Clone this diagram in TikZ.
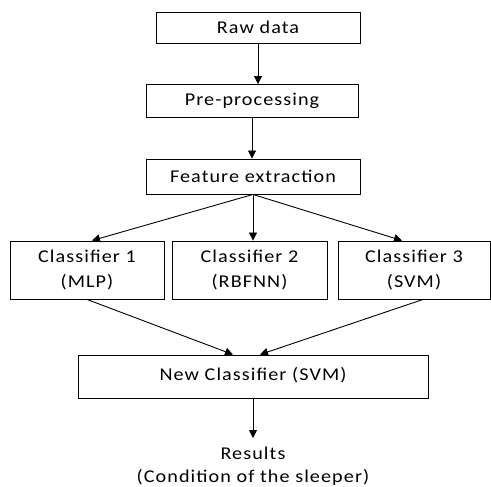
\documentclass[tikz,border=0pt]{standalone}
\usepackage{fontspec}
\setmainfont{Carlito}[FakeStretch=1.12,LetterSpace=6]
\usepackage{tikz}
\usetikzlibrary{arrows.meta,positioning}
\tikzset{
    stagebox/.style={
        draw,
        rectangle,
        line width=0.9pt,
        inner sep=0pt,
        align=center,
        font=\fontsize{18}{25}\selectfont
    },
    flow/.style={
        -{Triangle[length=8pt,width=8pt]},
        line width=0.9pt
    },
    outlabel/.style={
        align=center,
        inner sep=0pt,
        font=\fontsize{18}{23}\selectfont
    }
}

\begin{document}
\begin{tikzpicture}[x=1pt,y=-1pt]

    \useasboundingbox (0,0) rectangle (491,487);

    % Raw data
    \node[stagebox,minimum width=204pt,minimum height=31pt]
        (raw) at (258,27.5)
        {Raw data};

    % Pre-processing
    \node[stagebox,minimum width=212pt,minimum height=33pt]
        (prep) at (252,101)
        {Pre-processing};

    % Feature extraction
    \node[stagebox,minimum width=214pt,minimum height=35pt]
        (feat) at (253,176.5)
        {Feature extraction};

    % Classifiers
    \node[stagebox,minimum width=154pt,minimum height=58pt]
        (clfa) at (87,270)
        {Classifier 1\\(MLP)};

    \node[stagebox,minimum width=155pt,minimum height=58pt]
        (clfb) at (249.5,270)
        {Classifier 2\\(RBFNN)};

    \node[stagebox,minimum width=152pt,minimum height=58pt]
        (clfc) at (414,270)
        {Classifier 3\\(SVM)};

    % New classifier
    \node[stagebox,minimum width=350pt,minimum height=43pt]
        (newclf) at (253,376.5)
        {\raisebox{5pt}{New Classifier (SVM)}};

    % Results
    \node[outlabel]
        (res) at (253,466)
        {Results\\(Condition of the sleeper)};
    \coordinate (resin) at (253,438);

    % Arrows
    \draw[flow] (raw.south) -- (raw.south |- prep.north);
    \draw[flow] (prep.south) -- (prep.south |- feat.north);
    \draw[flow] (feat.south) -- ([xshift=5pt]clfa.north);
    \draw[flow] (feat.south) -- (feat.south |- clfb.north);
    \draw[flow] (feat.south) -- ([xshift=-12pt]clfc.north);
    \draw[flow] (clfa.south) -- ([xshift=-20pt]newclf.north);
    \draw[flow] ([xshift=9pt]clfc.south) -- ([xshift=7pt]newclf.north);
    \draw[flow] (newclf.south) -- (resin);

\end{tikzpicture}
\end{document}
